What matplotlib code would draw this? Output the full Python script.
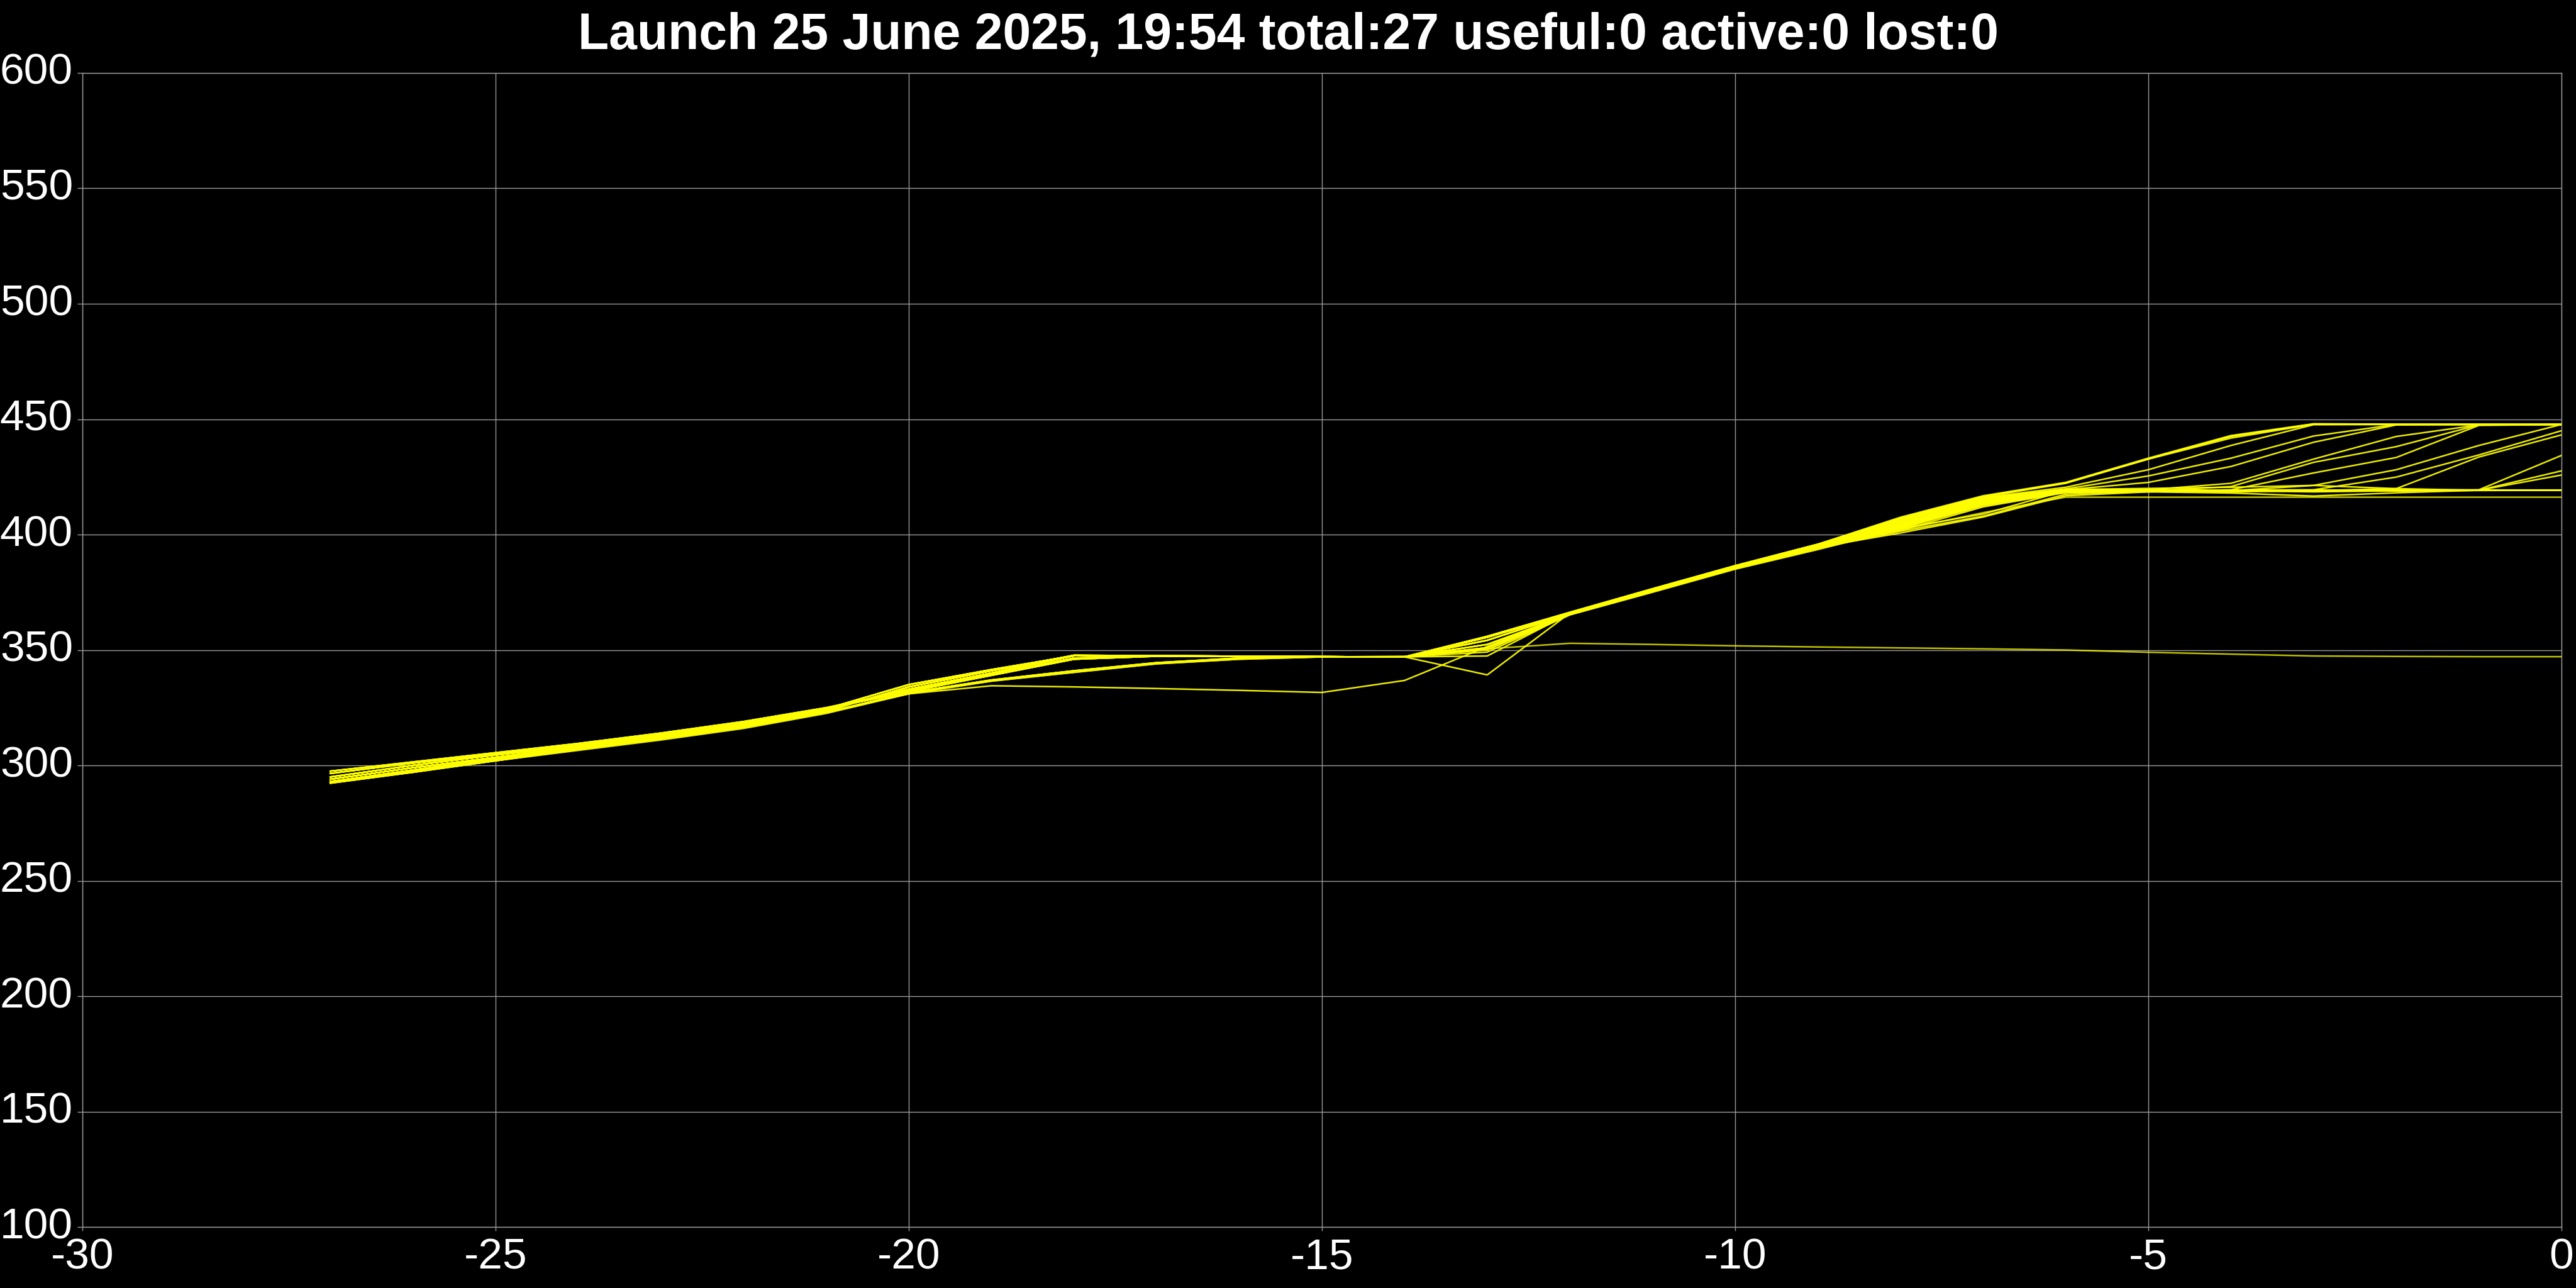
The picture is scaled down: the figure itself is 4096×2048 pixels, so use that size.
import matplotlib
matplotlib.use("Agg")
import matplotlib.pyplot as plt

# Seconds relative to launch
t = list(range(-27, 1))

# One altitude trace per balloon (27 total)
alt_01 = [297.5, 301.5, 305.5, 309.5, 314.0, 319.0, 325.0, 332.5, 339.5, 346.5, 347.5, 347.3, 347.1, 347.0,
          355.9, 366.3, 376.5, 386.5, 395.8, 407.5, 416.8, 422.6, 433.1, 442.9, 448.0, 447.8, 447.7, 447.7]
alt_02 = [296.5, 301.0, 305.0, 309.0, 313.5, 318.5, 324.5, 332.0, 339.0, 346.0, 347.3, 347.2, 347.1, 347.0,
          355.9, 366.3, 376.5, 386.5, 395.8, 407.2, 416.5, 422.4, 432.9, 442.5, 447.9, 447.7, 447.7, 447.7]
alt_03 = [295.0, 300.0, 304.5, 308.5, 313.0, 318.0, 324.0, 333.0, 340.0, 347.5, 347.4, 347.2, 347.1, 347.0,
          355.5, 366.0, 376.2, 386.2, 395.5, 407.0, 416.3, 422.2, 432.7, 441.8, 447.8, 447.7, 447.7, 447.7]
alt_04 = [294.0, 299.0, 303.5, 308.0, 312.5, 317.5, 323.5, 334.0, 341.0, 347.7, 347.5, 347.3, 347.1, 347.0,
          355.5, 366.0, 376.2, 386.2, 395.5, 406.5, 416.0, 420.5, 428.1, 438.6, 447.6, 447.7, 447.7, 447.7]
alt_05 = [293.0, 298.0, 303.0, 307.5, 312.0, 317.0, 324.5, 335.0, 341.5, 347.5, 347.4, 347.2, 347.1, 347.0,
          354.2, 365.8, 376.0, 386.0, 395.2, 406.0, 415.6, 419.8, 425.4, 433.1, 442.7, 447.7, 447.7, 447.7]
alt_06 = [295.0, 300.0, 304.5, 308.5, 313.0, 318.0, 324.0, 333.0, 340.0, 347.5, 347.4, 347.2, 347.1, 347.0,
          354.2, 365.8, 376.0, 386.0, 395.2, 405.5, 415.3, 419.4, 422.6, 429.5, 440.0, 447.5, 447.7, 447.7]
alt_07 = [292.3, 297.0, 302.0, 307.0, 311.5, 316.5, 323.0, 331.5, 337.0, 341.0, 344.5, 346.5, 347.0, 347.0,
          349.1, 365.2, 375.0, 385.0, 393.5, 402.6, 408.9, 419.0, 419.4, 422.2, 432.7, 442.5, 447.5, 447.7]
alt_08 = [292.5, 297.5, 302.5, 307.0, 312.0, 317.0, 323.0, 331.0, 336.5, 340.3, 344.0, 346.0, 347.0, 347.2,
          350.1, 365.3, 375.3, 385.3, 394.0, 401.5, 408.0, 417.5, 418.8, 420.8, 431.3, 438.1, 447.5, 447.7]
alt_09 = [292.3, 297.0, 302.0, 307.0, 311.5, 316.5, 323.0, 331.5, 337.0, 341.0, 344.5, 346.5, 347.0, 347.0,
          351.0, 365.5, 375.5, 385.5, 394.5, 400.7, 407.6, 416.8, 418.5, 419.4, 426.7, 433.4, 447.3, 447.7]
alt_10 = [296.5, 301.0, 305.0, 309.0, 313.5, 318.5, 324.5, 332.0, 339.0, 346.0, 347.3, 347.2, 347.1, 347.0,
          355.5, 366.0, 376.2, 386.2, 395.5, 405.0, 415.0, 419.0, 419.2, 419.0, 421.3, 428.1, 438.6, 447.7]
alt_11 = [294.0, 299.0, 303.5, 308.0, 312.5, 317.5, 323.5, 334.0, 341.0, 347.7, 347.5, 347.3, 347.1, 347.0,
          354.2, 365.8, 376.0, 386.0, 395.2, 404.5, 414.5, 419.2, 419.5, 419.2, 419.4, 424.9, 434.5, 445.0]
alt_12 = [293.0, 298.0, 303.0, 307.5, 312.0, 317.0, 324.5, 335.0, 341.5, 347.5, 347.4, 347.2, 347.1, 347.0,
          352.4, 365.5, 375.8, 385.8, 395.0, 404.0, 414.0, 419.0, 419.0, 418.5, 419.0, 419.9, 433.6, 443.2]
alt_13 = [295.0, 300.0, 304.5, 308.5, 313.0, 318.0, 324.0, 333.0, 340.0, 347.5, 347.4, 347.2, 347.1, 347.0,
          352.4, 365.5, 375.8, 385.8, 395.0, 403.5, 413.5, 418.8, 419.0, 419.2, 419.2, 419.2, 419.4, 434.3]
alt_14 = [297.5, 301.5, 305.5, 309.5, 314.0, 319.0, 325.0, 332.5, 339.5, 346.5, 347.5, 347.3, 347.1, 347.0,
          351.0, 365.5, 375.5, 385.5, 394.5, 403.0, 413.0, 418.5, 418.8, 419.0, 419.0, 419.1, 419.2, 427.6]
alt_15 = [294.0, 299.0, 303.5, 308.0, 312.5, 317.5, 323.5, 334.0, 341.0, 347.7, 347.5, 347.3, 347.1, 347.0,
          351.0, 365.5, 375.5, 385.5, 394.5, 402.8, 412.5, 418.3, 418.6, 419.0, 419.0, 419.0, 419.2, 425.8]
alt_16 = [292.5, 297.5, 302.5, 307.0, 312.0, 317.0, 323.0, 331.0, 336.5, 340.3, 344.0, 346.0, 347.0, 347.2,
          350.1, 365.3, 375.3, 385.3, 394.0, 402.0, 409.5, 416.2, 416.2, 416.2, 416.2, 416.2, 416.2, 416.2]
alt_17 = [296.5, 301.0, 305.0, 309.0, 313.5, 318.5, 324.5, 332.0, 339.0, 346.0, 347.3, 347.2, 347.1, 347.0,
          355.9, 366.3, 376.5, 386.5, 395.8, 406.5, 416.0, 419.5, 420.0, 420.5, 421.3, 419.9, 419.2, 419.2]
alt_18 = [295.0, 300.0, 304.5, 308.5, 313.0, 318.0, 324.0, 333.0, 340.0, 347.5, 347.4, 347.2, 347.1, 347.0,
          355.5, 366.0, 376.2, 386.2, 395.5, 405.0, 415.0, 419.0, 418.5, 418.0, 416.7, 418.1, 419.2, 419.2]
alt_19 = [293.0, 298.0, 303.0, 307.5, 312.0, 317.0, 324.5, 335.0, 341.5, 347.5, 347.4, 347.2, 347.1, 347.0,
          354.2, 365.8, 376.0, 386.0, 395.2, 404.0, 414.5, 419.2, 419.2, 419.2, 419.2, 419.2, 419.2, 419.2]
alt_20 = [294.0, 299.0, 303.5, 308.0, 312.5, 317.5, 323.5, 334.0, 341.0, 347.7, 347.5, 347.3, 347.1, 347.0,
          352.4, 365.5, 375.8, 385.8, 395.0, 403.5, 414.0, 419.0, 419.2, 419.3, 419.0, 419.2, 419.2, 419.2]
alt_21 = [297.5, 301.5, 305.5, 309.5, 314.0, 319.0, 325.0, 332.5, 339.5, 346.5, 347.5, 347.3, 347.1, 347.0,
          355.5, 366.0, 376.2, 386.2, 395.5, 403.0, 413.8, 418.8, 419.0, 419.0, 419.0, 418.9, 419.1, 419.2]
alt_22 = [292.3, 297.0, 302.0, 307.0, 311.5, 316.5, 323.0, 331.5, 337.0, 341.0, 344.5, 346.5, 347.0, 347.0,
          355.9, 366.3, 376.5, 386.5, 395.8, 402.5, 413.0, 418.5, 418.8, 419.0, 418.5, 419.0, 419.2, 419.2]
alt_23 = [293.0, 298.0, 303.0, 307.5, 312.0, 317.0, 324.5, 335.0, 341.5, 347.5, 347.4, 347.2, 347.1, 347.0,
          354.2, 365.8, 376.0, 386.0, 395.2, 401.8, 412.0, 418.2, 419.0, 419.2, 419.0, 419.2, 419.3, 419.3]
alt_24 = [295.0, 300.0, 304.5, 308.5, 313.0, 318.0, 324.0, 333.0, 340.0, 347.5, 347.4, 347.2, 347.1, 347.0,
          350.5, 352.9, 352.4, 351.8, 351.3, 350.9, 350.5, 350.0, 349.0, 348.2, 347.4, 347.2, 347.1, 347.1]
alt_25 = [292.5, 297.5, 302.0, 306.5, 311.0, 316.0, 322.5, 331.0, 334.5, 334.0, 333.3, 332.5, 331.6, 336.8,
          351.5, 366.0, 375.5, 385.5, 394.5, 404.5, 414.8, 419.1, 419.2, 419.2, 419.2, 419.2, 419.2, 419.2]
alt_26 = [296.5, 301.0, 305.0, 309.0, 313.5, 318.5, 324.5, 332.0, 339.0, 346.0, 347.3, 347.2, 347.1, 347.0,
          339.2, 366.0, 376.0, 386.0, 395.0, 405.8, 415.8, 419.6, 419.3, 419.0, 419.2, 419.2, 419.2, 419.2]
alt_27 = [294.0, 299.0, 303.5, 308.0, 312.5, 317.5, 323.5, 334.0, 341.0, 347.7, 347.5, 347.3, 347.1, 347.0,
          347.4, 365.8, 376.2, 386.2, 395.3, 406.8, 416.4, 422.4, 432.7, 442.6, 447.9, 447.7, 447.7, 447.7]

title = "Launch 25 June 2025, 19:54 total:27 useful:0 active:0 lost:0"
x_ticks = [-30, -25, -20, -15, -10, -5, 0]
y_ticks = [100, 150, 200, 250, 300, 350, 400, 450, 500, 550, 600]

traces = [alt_01, alt_02, alt_03, alt_04, alt_05, alt_06, alt_07, alt_08, alt_09,
          alt_10, alt_11, alt_12, alt_13, alt_14, alt_15, alt_16, alt_17, alt_18,
          alt_19, alt_20, alt_21, alt_22, alt_23, alt_24, alt_25, alt_26, alt_27]

plt.rcParams['axes.unicode_minus'] = False
plt.rcParams['font.family'] = ['Liberation Sans', 'DejaVu Sans']

fig = plt.figure(figsize=(40.96, 20.48), dpi=100, facecolor="black")
ax = fig.add_axes([0.03198, 0.04736, 0.96240, 0.89600], facecolor="black")

grid_col = "#9a9a9a"
ax.grid(True, color=grid_col, linewidth=1.0)
ax.set_axisbelow(True)

for i, alt in enumerate(traces):
    # the slow / flat balloons look a bit dimmer in the original
    a = 0.75 if i in (15, 23) else 0.92
    ax.plot(t, alt, color="#ffff00", linewidth=1.8, alpha=a, solid_joinstyle="round")

ax.set_xlim(-30, 0)
ax.set_ylim(100, 600)
ax.set_xticks(x_ticks)
ax.set_yticks(y_ticks)
ax.set_xticklabels([str(v) for v in x_ticks])
ax.set_yticklabels([str(v) for v in y_ticks], va="center")

for s in ax.spines.values():
    s.set_color(grid_col)
    s.set_linewidth(1.0)

ax.tick_params(axis="both", colors=grid_col, direction="out", width=1.0,
               labelcolor="white", labelsize=50)
ax.tick_params(axis="y", length=5.8, pad=5)
ax.tick_params(axis="x", length=4.5, pad=7.5)

fig.text(0.5, 1 - 77 / 2048, title, ha="center", va="baseline",
         fontsize=58, fontweight="bold", color="white")

fig.savefig("out.png", dpi=100, facecolor="black")
